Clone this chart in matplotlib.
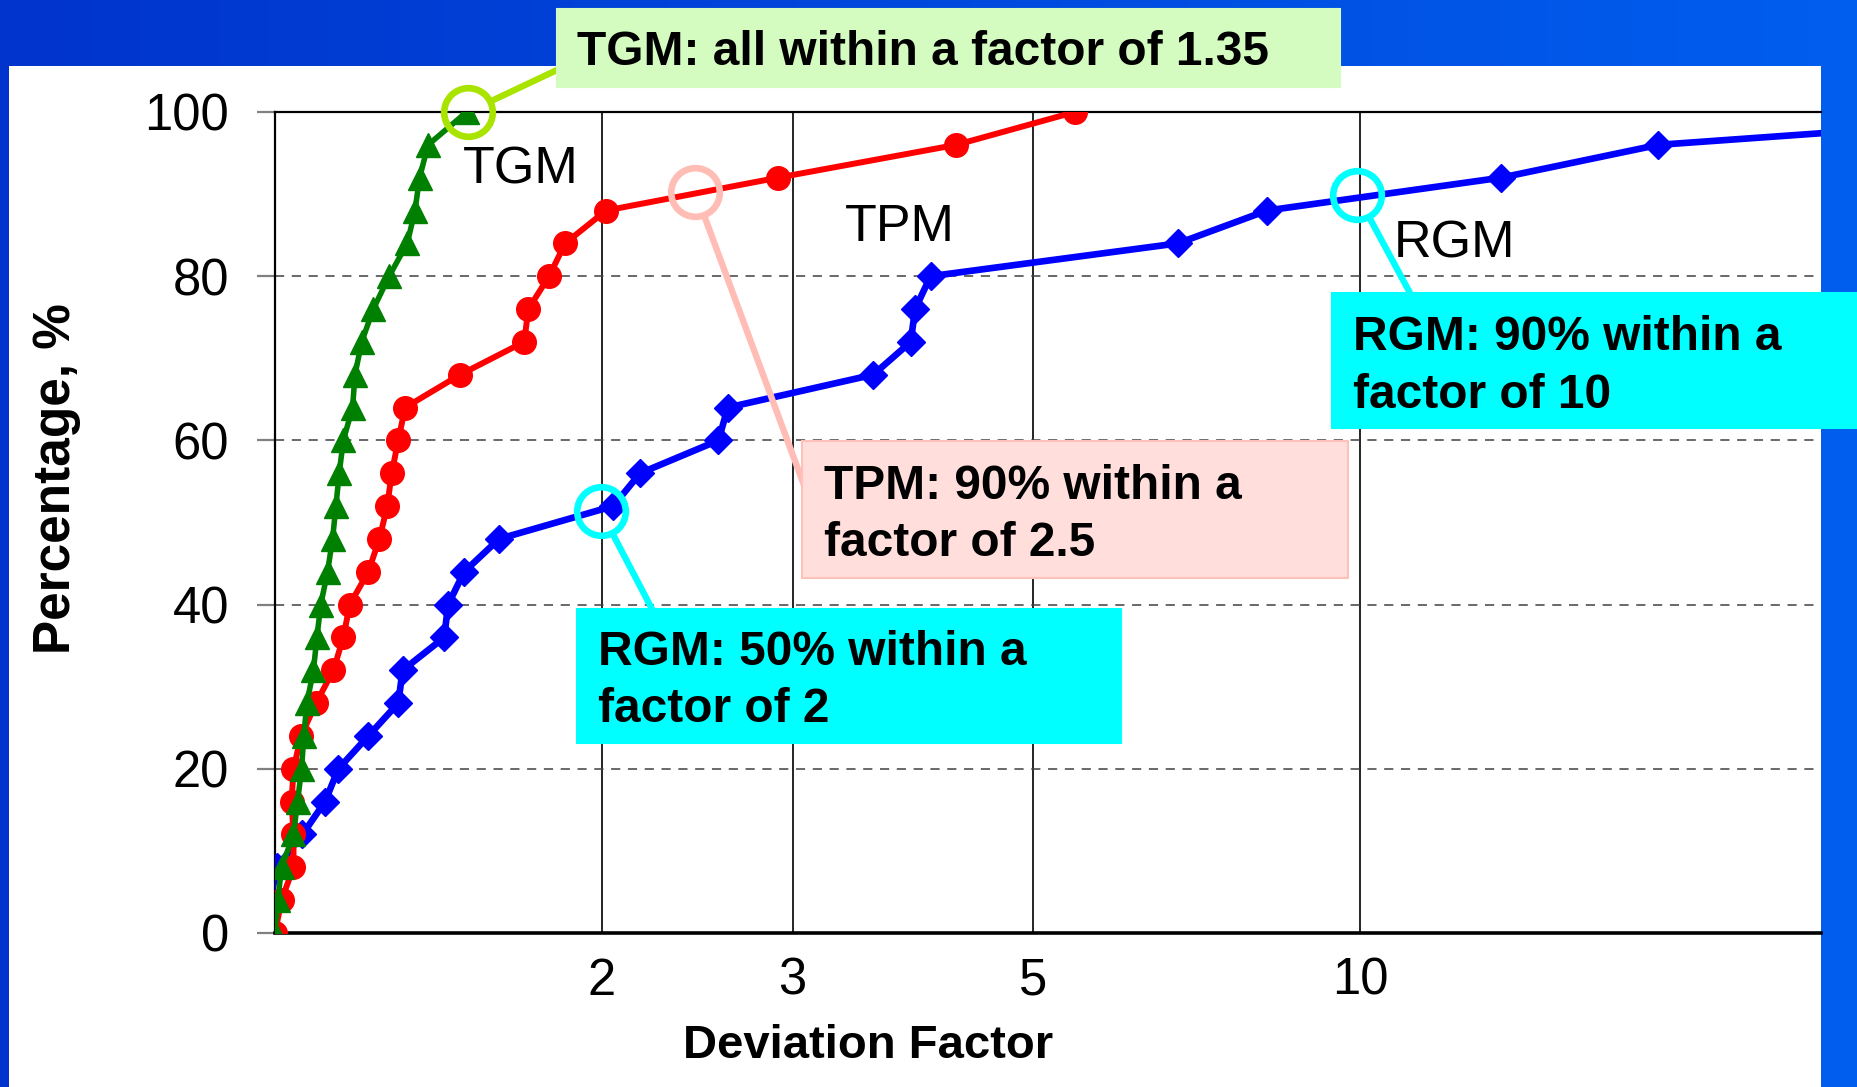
"""
Deviation factor distribution for TGM / TPM / RGM, slide-style chart.
"""
import matplotlib
matplotlib.use("Agg")
import matplotlib.pyplot as plt
import numpy as np
from matplotlib.lines import Line2D
from matplotlib.patches import Rectangle
from matplotlib.ticker import NullLocator

plt.rcParams["font.family"] = ["Liberation Sans", "DejaVu Sans"]

W, H, DPI = 1858, 1087, 100

# --- data ---
pct = [0, 4, 8, 12, 16, 20, 24, 28, 32, 36, 40, 44, 48,
       52, 56, 60, 64, 68, 72, 76, 80, 84, 88, 92, 96, 100]
tgm_factor = [1.000, 1.006, 1.014, 1.040, 1.049, 1.058, 1.063, 1.070, 1.085,
              1.093, 1.102, 1.118, 1.130, 1.138, 1.146, 1.156, 1.179, 1.185,
              1.202, 1.232, 1.274, 1.324, 1.346, 1.359, 1.384, 1.502]
tpm_factor = [1.000, 1.014, 1.040, 1.040, 1.036, 1.040, 1.057, 1.091, 1.132,
              1.156, 1.172, 1.219, 1.248, 1.269, 1.281, 1.299, 1.318, 1.481,
              1.697, 1.712, 1.789, 1.851, 2.019, 2.908, 4.245, 5.46]
rgm_pct = [4, 8, 12, 16, 20, 24, 28, 32, 36, 40, 44, 48,
           52, 56, 60, 64, 68, 72, 76, 80, 84, 88, 92, 96, 100]
rgm_factor = [0.99, 1.004, 1.06, 1.112, 1.144, 1.219, 1.299, 1.311, 1.432,
              1.444, 1.494, 1.609, 2.05, 2.17, 2.563, 2.614, 3.559, 3.854,
              3.89, 4.02, 6.795, 8.21, 13.49, 18.84, 50.0]

x_ticks = [2, 3, 5, 10]
x_tick_labels = ["2", "3", "5", "10"]
y_ticks = [0, 20, 40, 60, 80, 100]
x_max = 26.6

# callout circles (data coords) and their notes
call_points = [(1.506, 100.0), (2.44, 90.3), (1.996, 51.4), (9.94, 89.9)]
call_texts = ["TGM: all within a factor of 1.35",
              "TPM: 90% within a\nfactor of 2.5",
              "RGM: 50% within a\nfactor of 2",
              "RGM: 90% within a\nfactor of 10"]
call_colors = ["#a8e400", "#ffbdb5", "#00ffff", "#00ffff"]
box_colors = ["#d4fcc0", "#ffdedc", "#00ffff", "#00ffff"]
box_edges = ["#d4fcc0", "#ffc2ba", "#00ffff", "#00ffff"]

# layout in reference pixels (top-left origin)
box_rects = [(557, 9, 1340, 87), (802, 441, 1348, 578),
             (577, 609, 1121, 743), (1332, 293, 1858, 428)]
text_pos = [(577, 65), (824, 499), (598, 665), (1353, 350)]
leader_end = [(557, 70), (805, 488), (652, 609), (1410, 293)]
line_step = 57.5


def fx(px):
    return px / W


def fy(py):
    return 1 - py / H


fig = plt.figure(figsize=(W / DPI, H / DPI), dpi=DPI)

# slide background: blue gradient with white panel
bg = fig.add_axes([0, 0, 1, 1], zorder=-10)
grad = np.linspace(0, 1, 256)[None, :]
cmap = matplotlib.colors.LinearSegmentedColormap.from_list("slide", ["#0034cc", "#005eee"])
bg.imshow(grad, cmap=cmap, aspect="auto", extent=[0, 1, 0, 1])
bg.add_patch(Rectangle((fx(9), 0), fx(1821) - fx(9), fy(66), facecolor="white", edgecolor="none"))
bg.set_xlim(0, 1)
bg.set_ylim(0, 1)
bg.axis("off")

ax = fig.add_axes([fx(275), fy(933), fx(1821) - fx(275), fy(112) - fy(933)])
ax.set_facecolor("white")
ax.set_xscale("log")
ax.set_xlim(1, x_max)
ax.set_ylim(0, 100)
ax.set_xticks(x_ticks, labels=x_tick_labels)
ax.xaxis.set_minor_locator(NullLocator())
ax.set_yticks(y_ticks)

ax.grid(axis="x", color="black", linewidth=1.2, linestyle="-", zorder=0)
ax.grid(axis="y", color="#404040", linewidth=1.1, linestyle=(0, (6, 5)), zorder=0)
ax.set_axisbelow(True)

ax.tick_params(axis="x", length=0, pad=17, labelsize=36.5)
ax.tick_params(axis="y", length=13, width=1.6, color="#808080", pad=20, labelsize=36.5)
for side in ("left", "top"):
    ax.spines[side].set_linewidth(1.6)
ax.spines["bottom"].set_linewidth(2.6)
ax.spines["right"].set_visible(False)

ax.plot(rgm_factor, rgm_pct, color="#0000ff", linewidth=4.8, marker="D", markersize=14.5,
        zorder=3)
ax.plot(tpm_factor, pct, color="#ff0000", linewidth=4.3, marker="o", markersize=17,
        zorder=4)
ax.plot(tgm_factor, pct, color="#008000", linewidth=4.0, marker="^", markersize=17.5,
        zorder=5)

ax.text(fx(463), fy(184), "TGM", transform=fig.transFigure, fontsize=37.5, va="baseline")
ax.text(fx(845), fy(241), "TPM", transform=fig.transFigure, fontsize=37.5, va="baseline")
ax.text(fx(1394), fy(258), "RGM", transform=fig.transFigure, fontsize=37.5, va="baseline")

fig.text(fx(868), fy(1058), "Deviation Factor", fontsize=34, fontweight="bold",
         ha="center", va="baseline")
fig.text(fx(57), fy(479), "Percentage, %", fontsize=37, fontweight="bold",
         rotation=90, ha="center", va="center")

# callouts: circle, leader line, note box
r_out = 27
for (cx, cy), note, col, fc, ec, rect, tpos, end in zip(
        call_points, call_texts, call_colors, box_colors, box_edges,
        box_rects, text_pos, leader_end):
    ax.plot(cx, cy, "o", markersize=35, markerfacecolor="none", markeredgecolor=col,
            markeredgewidth=4.8, clip_on=False, zorder=8)
    dx, dy = ax.transData.transform((cx, cy))
    px, py = dx, H - dy
    vx, vy = end[0] - px, end[1] - py
    d = np.hypot(vx, vy)
    sx, sy = px + r_out * vx / d, py + r_out * vy / d
    fig.add_artist(Line2D([fx(sx), fx(end[0])], [fy(sy), fy(end[1])],
                          transform=fig.transFigure, color=col, linewidth=4.6, zorder=4))
    x0, y0, x1, y1 = rect
    fig.add_artist(Rectangle((fx(x0), fy(y1)), fx(x1) - fx(x0), fy(y0) - fy(y1),
                             transform=fig.transFigure, facecolor=fc, edgecolor=ec,
                             linewidth=1.5, zorder=5))
    for i, line in enumerate(note.split("\n")):
        fig.text(fx(tpos[0]), fy(tpos[1] + i * line_step), line, fontsize=34.5,
                 fontweight="bold", va="baseline", ha="left", zorder=6)

fig.savefig("out.png", dpi=DPI)
